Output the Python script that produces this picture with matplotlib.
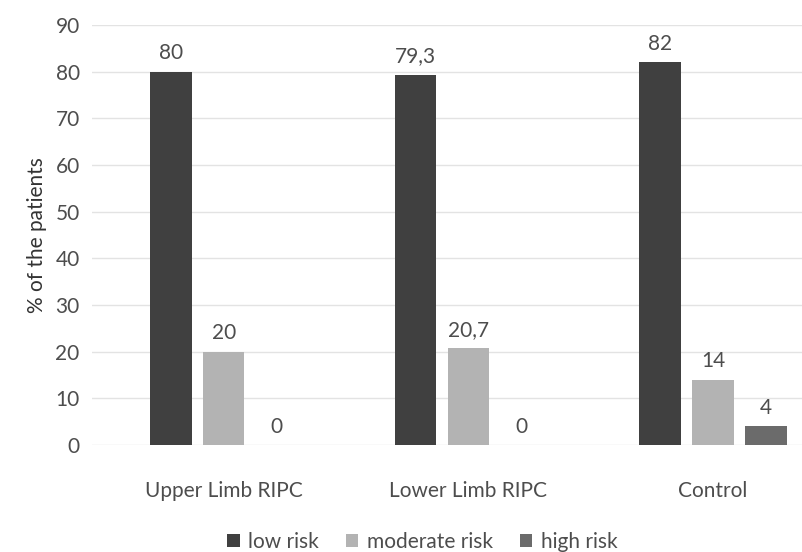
import numpy as np
import matplotlib.pyplot as plt

plt.rcParams['font.family'] = ['Lato', 'DejaVu Sans']

groups = ['Upper Limb RIPC', 'Lower Limb RIPC', 'Control']
series = ['low risk', 'moderate risk', 'high risk']
low = [80, 79.3, 82]
moderate = [20, 20.7, 14]
high = [0, 0, 4]
colors = ['#404040', '#b3b3b3', '#6b6b6b']
text_color = '#4d4d4d'

fig = plt.figure(figsize=(8.02, 5.52), dpi=100)
ax = fig.add_axes([0.115, 0.194, 0.885, 0.761])

x = np.arange(len(groups))
width = 0.17
offset = 0.216
for i, (vals, name) in enumerate(zip([low, moderate, high], series)):
    pos = x + (i - 1) * offset
    bars = ax.bar(pos, vals, width, color=colors[i], label=name, zorder=2)
    labels = [str(v).replace('.', ',') if v % 1 else str(int(v)) for v in vals]
    ax.bar_label(bars, labels=labels, padding=6, fontsize=15, color=text_color)

ax.set_ylim(0, 90)
ax.set_yticks(range(0, 91, 10))
ax.set_xlim(-0.537, 2.363)
ax.set_xticks(x)
ax.set_xticklabels(groups)
ax.tick_params(axis='both', length=0, labelsize=15, labelcolor=text_color)
ax.tick_params(axis='x', pad=26)
ax.tick_params(axis='y', pad=9)
ax.grid(axis='y', color='#e3e3e3', linewidth=1, zorder=0)
for s in ax.spines.values():
    s.set_visible(False)
ax.set_ylabel('% of the patients', fontsize=15, color='#333333', labelpad=6)

ax.legend(loc='lower center', bbox_to_anchor=(0.465, -0.3), ncol=3, frameon=False,
          fontsize=15, labelcolor=text_color, handlelength=0.6, handleheight=0.6,
          handletextpad=0.4, columnspacing=1.3)

fig.savefig('out.png', dpi=100)
